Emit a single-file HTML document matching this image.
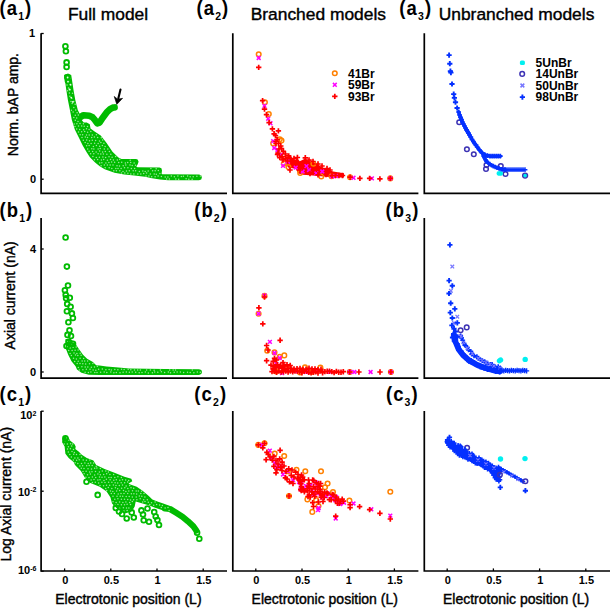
<!DOCTYPE html>
<html><head><meta charset="utf-8"><style>
html,body{margin:0;padding:0;background:#fff;}
svg{display:block;}
text{font-family:"Liberation Sans",sans-serif;fill:#000;}
.tk{font-size:11px;font-weight:bold;}
.sup{font-size:7px;}
.ttl{font-size:17.4px;stroke:#000;stroke-width:0.4px;}
.pl{font-size:18.5px;font-weight:bold;letter-spacing:1.1px;}
.sub{font-size:10.5px;}
.at{font-size:14px;stroke:#000;stroke-width:0.4px;}
.lg{font-size:12px;font-weight:bold;}
</style></head><body>
<svg width="610" height="608" viewBox="0 0 610 608">
<path d="M64.0 75.0 L64.9 80.0 L66.3 90.0 L67.9 100.0 L69.9 110.0 L71.8 119.7 L74.8 129.6 L78.8 137.5 L82.7 145.4 L86.5 152.0 L89.9 157.3 L94.8 162.3 L99.7 166.3 L104.7 169.2 L114.5 172.7 L124.3 174.6 L134.2 175.6 L145.0 176.8 L152.0 178.3 L160.0 179.6 L168.0 180.3 L199.0 180.3 L201.2 179.6 L201.9 177.4 L201.2 175.2 L199.0 174.5 L162.0 174.3 L161.6 173.4 L162.0 170.5 L161.4 168.2 L159.5 167.6 L137.5 167.3 L136.3 166.6 L137.6 164.6 L138.6 161.8 L137.6 159.6 L136.0 159.1 L121.5 159.1 L118.4 157.6 L112.5 151.7 L106.6 142.9 L100.7 135.5 L94.6 131.6 L90.5 128.4 L89.8 124.3 L86.7 122.6 L83.7 122.4 L80.5 118.5 L80.2 114.8 L77.8 109.9 L75.3 100.0 L73.5 90.0 L72.0 80.0 L71.2 75.0 L68.0 73.5 Z" fill="#00bb00" />
<path d="M79.5 117.6 L83.5 115.2 L89.3 115.8 L92.6 117.3 L94.6 119.6 L97.3 123.4 L99.6 122.6 L102.2 118.4 L107.2 111.8 L110.3 108.9 L113.2 107.6 L114.6 107.4" fill="none" stroke="#00bb00" stroke-width="6.6" stroke-linecap="round" stroke-linejoin="round" />
<g fill="#9ae89a"><circle cx="65.3" cy="76.3" r="0.75"/><circle cx="69.3" cy="75.7" r="0.75"/><circle cx="67.5" cy="79.0" r="0.75"/><circle cx="70.1" cy="78.5" r="0.75"/><circle cx="69.4" cy="81.8" r="0.75"/><circle cx="67.0" cy="85.1" r="0.75"/><circle cx="70.8" cy="85.1" r="0.75"/><circle cx="68.5" cy="87.9" r="0.75"/><circle cx="67.5" cy="90.8" r="0.75"/><circle cx="70.2" cy="89.8" r="0.75"/><circle cx="69.4" cy="92.9" r="0.75"/><circle cx="72.5" cy="93.3" r="0.75"/><circle cx="69.9" cy="96.3" r="0.75"/><circle cx="71.8" cy="98.3" r="0.75"/><circle cx="71.0" cy="101.4" r="0.75"/><circle cx="73.7" cy="101.4" r="0.75"/><circle cx="72.2" cy="103.6" r="0.75"/><circle cx="75.1" cy="104.3" r="0.75"/><circle cx="73.8" cy="107.5" r="0.75"/><circle cx="71.4" cy="110.2" r="0.75"/><circle cx="75.7" cy="109.9" r="0.75"/><circle cx="73.1" cy="112.1" r="0.75"/><circle cx="77.1" cy="112.7" r="0.75"/><circle cx="75.3" cy="115.3" r="0.75"/><circle cx="78.3" cy="114.9" r="0.75"/><circle cx="73.8" cy="117.5" r="0.75"/><circle cx="76.7" cy="118.0" r="0.75"/><circle cx="75.3" cy="120.3" r="0.75"/><circle cx="78.0" cy="121.4" r="0.75"/><circle cx="74.1" cy="124.0" r="0.75"/><circle cx="76.9" cy="123.7" r="0.75"/><circle cx="80.0" cy="123.6" r="0.75"/><circle cx="83.4" cy="123.7" r="0.75"/><circle cx="75.0" cy="126.5" r="0.75"/><circle cx="78.5" cy="126.1" r="0.75"/><circle cx="81.7" cy="126.1" r="0.75"/><circle cx="84.2" cy="126.2" r="0.75"/><circle cx="87.5" cy="126.4" r="0.75"/><circle cx="76.7" cy="129.1" r="0.75"/><circle cx="79.7" cy="129.6" r="0.75"/><circle cx="83.7" cy="129.7" r="0.75"/><circle cx="86.5" cy="128.7" r="0.75"/><circle cx="89.1" cy="129.5" r="0.75"/><circle cx="78.5" cy="131.9" r="0.75"/><circle cx="81.6" cy="131.8" r="0.75"/><circle cx="84.7" cy="131.5" r="0.75"/><circle cx="87.6" cy="132.3" r="0.75"/><circle cx="90.8" cy="131.6" r="0.75"/><circle cx="80.1" cy="134.7" r="0.75"/><circle cx="82.6" cy="134.8" r="0.75"/><circle cx="86.5" cy="135.0" r="0.75"/><circle cx="89.2" cy="134.9" r="0.75"/><circle cx="92.3" cy="135.0" r="0.75"/><circle cx="96.4" cy="134.7" r="0.75"/><circle cx="82.0" cy="137.5" r="0.75"/><circle cx="85.3" cy="137.1" r="0.75"/><circle cx="87.5" cy="137.5" r="0.75"/><circle cx="91.7" cy="137.5" r="0.75"/><circle cx="94.4" cy="137.1" r="0.75"/><circle cx="97.6" cy="137.4" r="0.75"/><circle cx="101.3" cy="137.8" r="0.75"/><circle cx="83.3" cy="140.2" r="0.75"/><circle cx="86.7" cy="140.1" r="0.75"/><circle cx="89.5" cy="140.7" r="0.75"/><circle cx="92.3" cy="140.2" r="0.75"/><circle cx="95.6" cy="140.4" r="0.75"/><circle cx="99.5" cy="140.9" r="0.75"/><circle cx="102.7" cy="139.9" r="0.75"/><circle cx="85.2" cy="142.5" r="0.75"/><circle cx="87.9" cy="143.4" r="0.75"/><circle cx="91.1" cy="143.5" r="0.75"/><circle cx="94.6" cy="143.3" r="0.75"/><circle cx="98.1" cy="143.4" r="0.75"/><circle cx="100.9" cy="142.6" r="0.75"/><circle cx="103.9" cy="143.3" r="0.75"/><circle cx="86.6" cy="145.7" r="0.75"/><circle cx="89.1" cy="145.5" r="0.75"/><circle cx="93.4" cy="146.4" r="0.75"/><circle cx="96.4" cy="145.6" r="0.75"/><circle cx="99.6" cy="146.2" r="0.75"/><circle cx="102.4" cy="145.6" r="0.75"/><circle cx="105.1" cy="146.5" r="0.75"/><circle cx="87.7" cy="148.9" r="0.75"/><circle cx="91.8" cy="148.7" r="0.75"/><circle cx="93.9" cy="148.9" r="0.75"/><circle cx="98.1" cy="149.0" r="0.75"/><circle cx="100.2" cy="148.4" r="0.75"/><circle cx="104.3" cy="148.9" r="0.75"/><circle cx="107.8" cy="149.1" r="0.75"/><circle cx="89.1" cy="151.2" r="0.75"/><circle cx="92.6" cy="151.5" r="0.75"/><circle cx="96.1" cy="151.9" r="0.75"/><circle cx="99.6" cy="151.1" r="0.75"/><circle cx="102.6" cy="151.9" r="0.75"/><circle cx="105.3" cy="151.6" r="0.75"/><circle cx="109.4" cy="151.6" r="0.75"/><circle cx="90.6" cy="153.8" r="0.75"/><circle cx="93.8" cy="153.8" r="0.75"/><circle cx="98.1" cy="153.7" r="0.75"/><circle cx="100.8" cy="153.9" r="0.75"/><circle cx="103.4" cy="154.0" r="0.75"/><circle cx="106.9" cy="154.3" r="0.75"/><circle cx="110.8" cy="154.3" r="0.75"/><circle cx="92.9" cy="156.5" r="0.75"/><circle cx="96.3" cy="157.5" r="0.75"/><circle cx="99.4" cy="157.3" r="0.75"/><circle cx="102.9" cy="157.0" r="0.75"/><circle cx="105.6" cy="157.5" r="0.75"/><circle cx="109.0" cy="156.8" r="0.75"/><circle cx="112.1" cy="157.3" r="0.75"/><circle cx="115.6" cy="156.6" r="0.75"/><circle cx="94.4" cy="159.8" r="0.75"/><circle cx="97.6" cy="159.4" r="0.75"/><circle cx="101.4" cy="160.1" r="0.75"/><circle cx="103.7" cy="159.6" r="0.75"/><circle cx="107.4" cy="160.2" r="0.75"/><circle cx="110.5" cy="159.5" r="0.75"/><circle cx="113.4" cy="159.9" r="0.75"/><circle cx="117.3" cy="160.0" r="0.75"/><circle cx="119.7" cy="159.2" r="0.75"/><circle cx="130.2" cy="160.2" r="0.75"/><circle cx="99.7" cy="163.1" r="0.75"/><circle cx="101.9" cy="162.7" r="0.75"/><circle cx="105.9" cy="163.1" r="0.75"/><circle cx="108.9" cy="162.6" r="0.75"/><circle cx="111.6" cy="162.0" r="0.75"/><circle cx="114.6" cy="162.3" r="0.75"/><circle cx="118.7" cy="162.5" r="0.75"/><circle cx="121.7" cy="162.3" r="0.75"/><circle cx="125.4" cy="163.1" r="0.75"/><circle cx="127.7" cy="162.4" r="0.75"/><circle cx="130.7" cy="162.5" r="0.75"/><circle cx="134.1" cy="162.9" r="0.75"/><circle cx="101.1" cy="165.7" r="0.75"/><circle cx="104.3" cy="165.0" r="0.75"/><circle cx="107.4" cy="165.1" r="0.75"/><circle cx="110.1" cy="165.1" r="0.75"/><circle cx="113.0" cy="164.9" r="0.75"/><circle cx="117.0" cy="165.7" r="0.75"/><circle cx="119.5" cy="165.9" r="0.75"/><circle cx="123.2" cy="165.7" r="0.75"/><circle cx="125.8" cy="164.9" r="0.75"/><circle cx="130.0" cy="164.9" r="0.75"/><circle cx="132.2" cy="165.6" r="0.75"/><circle cx="135.5" cy="165.3" r="0.75"/><circle cx="105.2" cy="167.8" r="0.75"/><circle cx="109.2" cy="167.8" r="0.75"/><circle cx="111.8" cy="168.6" r="0.75"/><circle cx="115.8" cy="168.5" r="0.75"/><circle cx="118.0" cy="168.5" r="0.75"/><circle cx="121.1" cy="168.5" r="0.75"/><circle cx="124.5" cy="167.8" r="0.75"/><circle cx="127.9" cy="167.7" r="0.75"/><circle cx="131.4" cy="168.5" r="0.75"/><circle cx="134.6" cy="168.5" r="0.75"/><circle cx="150.9" cy="168.6" r="0.75"/><circle cx="156.2" cy="168.7" r="0.75"/><circle cx="113.8" cy="170.7" r="0.75"/><circle cx="116.4" cy="170.7" r="0.75"/><circle cx="119.8" cy="170.7" r="0.75"/><circle cx="123.0" cy="171.4" r="0.75"/><circle cx="126.5" cy="170.9" r="0.75"/><circle cx="129.3" cy="170.7" r="0.75"/><circle cx="133.2" cy="170.7" r="0.75"/><circle cx="135.6" cy="170.8" r="0.75"/><circle cx="139.4" cy="171.5" r="0.75"/><circle cx="142.8" cy="170.9" r="0.75"/><circle cx="145.2" cy="171.4" r="0.75"/><circle cx="148.2" cy="171.0" r="0.75"/><circle cx="152.6" cy="170.7" r="0.75"/><circle cx="155.2" cy="170.7" r="0.75"/><circle cx="158.3" cy="170.5" r="0.75"/><circle cx="121.5" cy="173.1" r="0.75"/><circle cx="124.8" cy="173.1" r="0.75"/><circle cx="127.9" cy="173.2" r="0.75"/><circle cx="130.8" cy="174.0" r="0.75"/><circle cx="133.9" cy="174.1" r="0.75"/><circle cx="137.8" cy="173.9" r="0.75"/><circle cx="140.8" cy="174.0" r="0.75"/><circle cx="143.7" cy="173.6" r="0.75"/><circle cx="146.6" cy="173.1" r="0.75"/><circle cx="150.3" cy="173.9" r="0.75"/><circle cx="154.2" cy="174.1" r="0.75"/><circle cx="156.3" cy="174.2" r="0.75"/><circle cx="159.9" cy="173.6" r="0.75"/><circle cx="146.0" cy="176.0" r="0.75"/><circle cx="148.9" cy="176.0" r="0.75"/><circle cx="151.7" cy="176.7" r="0.75"/><circle cx="155.1" cy="176.7" r="0.75"/><circle cx="158.1" cy="176.0" r="0.75"/><circle cx="161.4" cy="176.5" r="0.75"/><circle cx="165.2" cy="176.9" r="0.75"/><circle cx="167.9" cy="177.0" r="0.75"/><circle cx="171.3" cy="176.1" r="0.75"/><circle cx="174.4" cy="176.7" r="0.75"/><circle cx="177.9" cy="176.1" r="0.75"/><circle cx="181.4" cy="176.6" r="0.75"/><circle cx="183.4" cy="176.3" r="0.75"/><circle cx="187.6" cy="176.0" r="0.75"/><circle cx="190.2" cy="176.7" r="0.75"/><circle cx="193.2" cy="176.8" r="0.75"/><circle cx="196.9" cy="176.2" r="0.75"/><circle cx="200.4" cy="176.0" r="0.75"/><circle cx="166.6" cy="179.1" r="0.75"/><circle cx="169.4" cy="178.9" r="0.75"/><circle cx="175.8" cy="179.0" r="0.75"/><circle cx="178.7" cy="179.3" r="0.75"/><circle cx="186.1" cy="178.7" r="0.75"/><circle cx="188.8" cy="179.3" r="0.75"/><circle cx="192.1" cy="179.2" r="0.75"/></g>
<g fill="none" stroke="#00bb00" stroke-width="1.8"><circle cx="65.4" cy="46.2" r="2.4"/><circle cx="65.9" cy="51.3" r="2.4"/><circle cx="66.6" cy="62.4" r="2.4"/><circle cx="66.6" cy="66.9" r="2.4"/><circle cx="67.3" cy="77.2" r="2.4"/><circle cx="67.9" cy="80.6" r="2.4"/></g>
<path d="M120.5 89.6 L118.3 98.5" stroke="#000" stroke-width="2.1" stroke-linecap="round"/>
<path d="M114.2 96.4 L117.7 99.2 L122.6 98.3 L116.8 104.4 Z" fill="#000" stroke="#000" stroke-width="0.6" stroke-linejoin="round"/>
<g fill="#e8ffe8"><circle cx="67.6" cy="77.5" r="0.9"/><circle cx="68.0" cy="81.7" r="0.9"/><circle cx="70.4" cy="84.6" r="0.9"/><circle cx="71.2" cy="97.6" r="0.9"/><circle cx="72.8" cy="101.9" r="0.9"/><circle cx="69.5" cy="89.5" r="0.9"/></g>
<path d="M286.0 157.0 L289.8 155.6 L294.4 159.9 L297.4 158.4 L299.8 161.3 L305.3 158.6 L308.7 160.9 L312.7 162.3 L316.6 163.8 L321.3 167.1 L326.2 168.6 L333.1 171.5 L344.0 173.2 L344.0 177.6 L333.1 177.6 L321.3 176.3 L312.7 175.6 L302.8 174.8 L298.4 173.6 L295.4 168.8 L288.0 167.5 L285.0 162.0 Z" fill="#ff0000" />
<g fill="none" stroke="#ff8000" stroke-width="1.5"><circle cx="258.7" cy="54.3" r="2.3"/><circle cx="264.9" cy="102.2" r="2.3"/><circle cx="268.8" cy="114.1" r="2.3"/><circle cx="279.8" cy="139.3" r="2.3"/><circle cx="281.5" cy="140.6" r="2.3"/><circle cx="273.2" cy="143.4" r="2.3"/><circle cx="283.8" cy="163.5" r="2.3"/><circle cx="288.4" cy="167.1" r="2.3"/><circle cx="300.2" cy="173.0" r="2.3"/><circle cx="313.4" cy="163.7" r="2.3"/><circle cx="321.3" cy="176.5" r="2.3"/><circle cx="331.5" cy="176.2" r="2.3"/><circle cx="350.1" cy="177.2" r="2.3"/><circle cx="390.3" cy="178.4" r="2.3"/><circle cx="334.8" cy="73.3" r="2.3"/></g>
<path d="M256.8 56.1l3.8 3.8M256.8 59.9l3.8 -3.8M262.6 104.0l3.8 3.8M262.6 107.8l3.8 -3.8M266.3 116.8l3.8 3.8M266.3 120.6l3.8 -3.8M268.6 121.4l3.8 3.8M268.6 125.2l3.8 -3.8M271.3 139.2l3.8 3.8M271.3 143.0l3.8 -3.8M272.3 146.1l3.8 3.8M272.3 149.9l3.8 -3.8M275.6 148.1l3.8 3.8M275.6 151.9l3.8 -3.8M285.5 158.6l3.8 3.8M285.5 162.4l3.8 -3.8M279.1 152.9l3.8 3.8M279.1 156.7l3.8 -3.8M286.0 159.8l3.8 3.8M286.0 163.6l3.8 -3.8M293.8 165.7l3.8 3.8M293.8 169.5l3.8 -3.8M300.7 169.6l3.8 3.8M300.7 173.4l3.8 -3.8M304.6 164.2l3.8 3.8M304.6 168.0l3.8 -3.8M314.5 171.6l3.8 3.8M314.5 175.4l3.8 -3.8M320.4 169.6l3.8 3.8M320.4 173.4l3.8 -3.8M330.2 174.6l3.8 3.8M330.2 178.4l3.8 -3.8M334.6 174.1l3.8 3.8M334.6 177.9l3.8 -3.8M351.6 175.9l3.8 3.8M351.6 179.7l3.8 -3.8M370.0 176.5l3.8 3.8M370.0 180.3l3.8 -3.8M388.4 176.5l3.8 3.8M388.4 180.3l3.8 -3.8M332.9 82.9l3.8 3.8M332.9 86.7l3.8 -3.8M281.1 163.9l3.8 3.8M281.1 167.7l3.8 -3.8M307.1 168.1l3.8 3.8M307.1 171.9l3.8 -3.8" stroke="#ff00ff" stroke-width="1.5" fill="none"/>
<path d="M256.0 67.4h5.4M258.7 64.7v5.4M259.9 100.6h5.4M262.6 97.9v5.4M261.8 109.1h5.4M264.5 106.4v5.4M263.8 114.7h5.4M266.5 112.0v5.4M266.4 122.6h5.4M269.1 119.9v5.4M269.7 128.9h5.4M272.4 126.2v5.4M275.7 130.9h5.4M278.4 128.2v5.4M271.4 133.8h5.4M274.1 131.1v5.4M272.8 135.5h5.4M275.5 132.8v5.4M274.5 139.5h5.4M277.2 136.8v5.4M273.3 143.5h5.4M276.0 140.8v5.4M278.1 146.0h5.4M280.8 143.3v5.4M280.7 151.3h5.4M283.4 148.6v5.4M277.1 157.6h5.4M279.8 154.9v5.4M282.7 154.0h5.4M285.4 151.3v5.4M286.0 155.9h5.4M288.7 153.2v5.4M288.0 158.6h5.4M290.7 155.9v5.4M291.3 158.5h5.4M294.0 155.8v5.4M294.7 157.5h5.4M297.4 154.8v5.4M302.6 157.8h5.4M305.3 155.1v5.4M306.3 160.0h5.4M309.0 157.3v5.4M310.3 161.5h5.4M313.0 158.8v5.4M315.3 164.0h5.4M318.0 161.3v5.4M319.3 166.0h5.4M322.0 163.3v5.4M324.3 168.5h5.4M327.0 165.8v5.4M327.3 170.0h5.4M330.0 167.3v5.4M329.3 175.5h5.4M332.0 172.8v5.4M332.8 175.5h5.4M335.5 172.8v5.4M336.3 175.5h5.4M339.0 172.8v5.4M339.8 175.5h5.4M342.5 172.8v5.4M347.4 177.2h5.4M350.1 174.5v5.4M357.2 178.4h5.4M359.9 175.7v5.4M366.9 178.4h5.4M369.6 175.7v5.4M377.2 178.9h5.4M379.9 176.2v5.4M387.6 178.4h5.4M390.3 175.7v5.4M332.1 96.4h5.4M334.8 93.7v5.4M275.3 153.0h5.4M278.0 150.3v5.4M273.3 141.5h5.4M276.0 138.8v5.4M275.8 143.5h5.4M278.5 140.8v5.4M276.3 149.0h5.4M279.0 146.3v5.4M278.8 148.5h5.4M281.5 145.8v5.4M274.8 154.5h5.4M277.5 151.8v5.4M279.3 156.5h5.4M282.0 153.8v5.4M282.8 158.5h5.4M285.5 155.8v5.4M284.8 161.0h5.4M287.5 158.3v5.4M280.3 160.0h5.4M283.0 157.3v5.4M287.3 170.0h5.4M290.0 167.3v5.4M297.3 170.0h5.4M300.0 167.3v5.4M307.3 173.5h5.4M310.0 170.8v5.4M315.3 174.8h5.4M318.0 172.1v5.4M323.3 174.5h5.4M326.0 171.8v5.4" stroke="#ff0000" stroke-width="1.7" fill="none"/>
<g fill="none" stroke="#3c32b4" stroke-width="1.5"><circle cx="459.2" cy="122.2" r="2.3"/><circle cx="466.9" cy="149.3" r="2.3"/><circle cx="473.8" cy="154.3" r="2.3"/><circle cx="486.5" cy="165.1" r="2.3"/><circle cx="486.0" cy="169.0" r="2.3"/><circle cx="500.8" cy="166.1" r="2.3"/><circle cx="505.5" cy="174.0" r="2.3"/><circle cx="522.2" cy="73.9" r="2.3"/></g>
<ellipse cx="499.8" cy="173.4" rx="3.2" ry="2.4" fill="#00f0f0"/>
<path d="M446.5 55.1h5.2M449.1 52.5v5.2M447.2 63.7h5.2M449.8 61.1v5.2M447.8 71.2h5.2M450.4 68.6v5.2M448.3 72.6h5.2M450.9 70.0v5.2M449.4 84.0h5.2M452.0 81.4v5.2M451.1 94.1h5.2M453.7 91.5v5.2M451.8 97.9h5.2M454.4 95.3v5.2M452.9 102.2h5.2M455.5 99.6v5.2M454.5 108.0h5.2M457.1 105.4v5.2M519.8 97.1h5.2M522.4 94.5v5.2" stroke="#0430ff" stroke-width="1.9" fill="none"/>
<path d="M458.6 112.0 L459.6 115.0 L462.4 122.0 L465.5 128.0 L469.5 135.0 L472.0 139.5 L474.7 143.5 L477.2 147.0 L479.5 150.0 L482.0 152.8 L485.0 155.0 L490.0 156.2 L500.3 156.2" fill="none" stroke="#0430ff" stroke-width="3.6" stroke-linecap="round" stroke-linejoin="round" />
<path d="M456.2 112.0h4.8M458.6 109.6v4.8M457.2 115.0h4.8M459.6 112.6v4.8M458.1 117.3h4.8M460.5 114.9v4.8M459.1 119.7h4.8M461.5 117.3v4.8M460.0 122.0h4.8M462.4 119.6v4.8M461.0 124.0h4.8M463.4 121.6v4.8M462.1 126.0h4.8M464.5 123.6v4.8M463.1 128.0h4.8M465.5 125.6v4.8M464.1 129.8h4.8M466.5 127.3v4.8M465.1 131.5h4.8M467.5 129.1v4.8M466.1 133.2h4.8M468.5 130.8v4.8M467.1 135.0h4.8M469.5 132.6v4.8M468.4 137.2h4.8M470.8 134.8v4.8M469.6 139.5h4.8M472.0 137.1v4.8M471.0 141.5h4.8M473.4 139.1v4.8M472.3 143.5h4.8M474.7 141.1v4.8M473.6 145.2h4.8M475.9 142.8v4.8M474.8 147.0h4.8M477.2 144.6v4.8M477.1 150.0h4.8M479.5 147.6v4.8M479.6 152.8h4.8M482.0 150.4v4.8M482.6 155.0h4.8M485.0 152.6v4.8M485.1 155.6h4.8M487.5 153.2v4.8M487.6 156.2h4.8M490.0 153.8v4.8M489.7 156.2h4.8M492.1 153.8v4.8M491.7 156.2h4.8M494.1 153.8v4.8M493.8 156.2h4.8M496.2 153.8v4.8M495.8 156.2h4.8M498.2 153.8v4.8M497.9 156.2h4.8M500.3 153.8v4.8" stroke="#0430ff" stroke-width="1.7" fill="none"/>
<path d="M483.5 156.0 L486.5 161.5 L491.5 165.3 L497.0 167.8 L501.3 169.2 L505.0 169.6" fill="none" stroke="#0430ff" stroke-width="3.4" stroke-linecap="round" stroke-linejoin="round" />
<path d="M481.2 156.0h4.6M483.5 153.7v4.6M482.2 157.8h4.6M484.5 155.5v4.6M483.2 159.7h4.6M485.5 157.4v4.6M484.2 161.5h4.6M486.5 159.2v4.6M485.9 162.8h4.6M488.2 160.5v4.6M487.5 164.0h4.6M489.8 161.7v4.6M489.2 165.3h4.6M491.5 163.0v4.6M491.0 166.1h4.6M493.3 163.8v4.6M492.9 167.0h4.6M495.2 164.7v4.6M494.7 167.8h4.6M497.0 165.5v4.6M496.8 168.5h4.6M499.1 166.2v4.6M499.0 169.2h4.6M501.3 166.9v4.6M502.7 169.6h4.6M505.0 167.3v4.6" stroke="#0430ff" stroke-width="1.6" fill="none"/>
<path d="M503 169.7 H525" stroke="#0430ff" stroke-width="2.2"/>
<path d="M500.6 169.7h4.8M503.0 167.3v4.8M502.6 169.7h4.8M505.0 167.3v4.8M504.6 169.7h4.8M507.0 167.3v4.8M506.6 169.7h4.8M509.0 167.3v4.8M508.6 169.7h4.8M511.0 167.3v4.8M510.6 169.7h4.8M513.0 167.3v4.8M512.6 169.7h4.8M515.0 167.3v4.8M514.6 169.7h4.8M517.0 167.3v4.8M516.6 169.7h4.8M519.0 167.3v4.8M518.6 169.7h4.8M521.0 167.3v4.8M520.6 169.7h4.8M523.0 167.3v4.8M522.6 169.7h4.8M525.0 167.3v4.8" stroke="#0430ff" stroke-width="1.4" fill="none"/>
<g fill="#00f0f0"><circle cx="525.1" cy="175.6" r="2.4"/></g>
<g fill="none" stroke="#3c32b4" stroke-width="1.3"><circle cx="525.1" cy="175.6" r="2.5"/></g>
<rect x="519.9" y="60.4" width="5" height="4.6" rx="1.6" fill="#00f0f0"/>
<path d="M520.5 83.6l3.8 3.8M520.5 87.4l3.8 -3.8" stroke="#7878ff" stroke-width="1.5" fill="none"/>
<path d="M65.5 339.0 L65.6 348.1 L68.2 354.7 L71.5 361.3 L75.6 366.2 L77.0 369.5 L81.4 372.8 L88.8 374.8 L100.0 375.1 L199.0 375.1 L201.3 374.0 L202.0 372.0 L201.3 370.0 L199.0 369.2 L165.0 368.9 L129.4 368.4 L115.7 367.2 L106.5 366.6 L99.6 365.5 L96.2 365.2 L92.9 362.1 L87.1 358.8 L83.0 354.7 L78.9 348.9 L75.6 344.0 L73.5 341.0 L70.0 339.5 Z" fill="#00bb00" />
<g fill="#9ae89a"><circle cx="67.4" cy="341.3" r="0.75"/><circle cx="70.5" cy="341.5" r="0.75"/><circle cx="73.2" cy="342.2" r="0.75"/><circle cx="69.0" cy="344.3" r="0.75"/><circle cx="71.4" cy="344.2" r="0.75"/><circle cx="67.5" cy="346.9" r="0.75"/><circle cx="70.1" cy="347.9" r="0.75"/><circle cx="73.1" cy="347.3" r="0.75"/><circle cx="76.2" cy="346.9" r="0.75"/><circle cx="68.7" cy="350.5" r="0.75"/><circle cx="72.1" cy="350.4" r="0.75"/><circle cx="75.1" cy="350.3" r="0.75"/><circle cx="78.1" cy="349.9" r="0.75"/><circle cx="70.1" cy="353.4" r="0.75"/><circle cx="74.0" cy="352.9" r="0.75"/><circle cx="76.9" cy="353.5" r="0.75"/><circle cx="80.2" cy="353.2" r="0.75"/><circle cx="71.4" cy="355.5" r="0.75"/><circle cx="75.5" cy="355.1" r="0.75"/><circle cx="77.8" cy="355.5" r="0.75"/><circle cx="81.1" cy="355.3" r="0.75"/><circle cx="73.5" cy="358.2" r="0.75"/><circle cx="76.4" cy="358.9" r="0.75"/><circle cx="80.1" cy="358.2" r="0.75"/><circle cx="83.6" cy="358.6" r="0.75"/><circle cx="74.7" cy="361.4" r="0.75"/><circle cx="78.2" cy="361.2" r="0.75"/><circle cx="82.1" cy="361.1" r="0.75"/><circle cx="84.7" cy="361.1" r="0.75"/><circle cx="87.6" cy="360.9" r="0.75"/><circle cx="77.2" cy="363.6" r="0.75"/><circle cx="80.0" cy="363.5" r="0.75"/><circle cx="82.8" cy="363.7" r="0.75"/><circle cx="85.7" cy="363.9" r="0.75"/><circle cx="89.5" cy="363.8" r="0.75"/><circle cx="92.9" cy="363.5" r="0.75"/><circle cx="78.3" cy="367.4" r="0.75"/><circle cx="81.9" cy="366.7" r="0.75"/><circle cx="85.2" cy="366.9" r="0.75"/><circle cx="87.8" cy="367.0" r="0.75"/><circle cx="91.4" cy="367.3" r="0.75"/><circle cx="94.5" cy="367.0" r="0.75"/><circle cx="97.4" cy="366.3" r="0.75"/><circle cx="79.3" cy="370.1" r="0.75"/><circle cx="82.9" cy="369.7" r="0.75"/><circle cx="86.3" cy="369.2" r="0.75"/><circle cx="90.0" cy="369.2" r="0.75"/><circle cx="93.1" cy="370.1" r="0.75"/><circle cx="95.8" cy="370.2" r="0.75"/><circle cx="98.6" cy="369.2" r="0.75"/><circle cx="102.3" cy="369.1" r="0.75"/><circle cx="105.9" cy="369.7" r="0.75"/><circle cx="109.1" cy="369.4" r="0.75"/><circle cx="111.3" cy="370.1" r="0.75"/><circle cx="114.8" cy="369.5" r="0.75"/><circle cx="117.9" cy="369.7" r="0.75"/><circle cx="121.5" cy="369.3" r="0.75"/><circle cx="124.1" cy="369.4" r="0.75"/><circle cx="128.2" cy="369.2" r="0.75"/><circle cx="130.8" cy="369.8" r="0.75"/><circle cx="134.5" cy="370.0" r="0.75"/><circle cx="137.7" cy="370.0" r="0.75"/><circle cx="140.3" cy="370.1" r="0.75"/><circle cx="146.6" cy="370.0" r="0.75"/><circle cx="150.3" cy="370.1" r="0.75"/><circle cx="154.1" cy="370.2" r="0.75"/><circle cx="160.4" cy="369.9" r="0.75"/><circle cx="169.7" cy="369.9" r="0.75"/><circle cx="173.1" cy="369.9" r="0.75"/><circle cx="175.5" cy="369.9" r="0.75"/><circle cx="192.3" cy="370.1" r="0.75"/><circle cx="85.1" cy="372.2" r="0.75"/><circle cx="88.4" cy="372.6" r="0.75"/><circle cx="90.9" cy="372.0" r="0.75"/><circle cx="94.8" cy="372.6" r="0.75"/><circle cx="97.0" cy="372.6" r="0.75"/><circle cx="100.6" cy="372.3" r="0.75"/><circle cx="104.2" cy="372.1" r="0.75"/><circle cx="106.8" cy="372.5" r="0.75"/><circle cx="110.8" cy="371.9" r="0.75"/><circle cx="113.9" cy="372.7" r="0.75"/><circle cx="116.3" cy="372.6" r="0.75"/><circle cx="120.0" cy="372.7" r="0.75"/><circle cx="123.1" cy="372.2" r="0.75"/><circle cx="126.3" cy="372.1" r="0.75"/><circle cx="129.4" cy="372.3" r="0.75"/><circle cx="132.2" cy="372.1" r="0.75"/><circle cx="135.7" cy="372.3" r="0.75"/><circle cx="139.2" cy="372.7" r="0.75"/><circle cx="142.0" cy="372.5" r="0.75"/><circle cx="145.3" cy="372.1" r="0.75"/><circle cx="148.3" cy="373.0" r="0.75"/><circle cx="152.4" cy="372.8" r="0.75"/><circle cx="154.7" cy="372.0" r="0.75"/><circle cx="157.8" cy="372.2" r="0.75"/><circle cx="161.4" cy="371.8" r="0.75"/><circle cx="164.6" cy="372.6" r="0.75"/><circle cx="168.3" cy="372.0" r="0.75"/><circle cx="170.5" cy="372.8" r="0.75"/><circle cx="174.2" cy="372.2" r="0.75"/><circle cx="177.1" cy="372.1" r="0.75"/><circle cx="180.4" cy="372.1" r="0.75"/><circle cx="183.6" cy="372.4" r="0.75"/><circle cx="187.5" cy="372.2" r="0.75"/><circle cx="190.2" cy="372.4" r="0.75"/><circle cx="193.9" cy="372.7" r="0.75"/><circle cx="197.3" cy="372.0" r="0.75"/><circle cx="200.3" cy="372.2" r="0.75"/></g>
<g fill="none" stroke="#00bb00" stroke-width="1.8"><circle cx="65.6" cy="237.5" r="2.4"/><circle cx="66.9" cy="266.6" r="2.4"/><circle cx="68.0" cy="285.5" r="2.4"/><circle cx="64.9" cy="290.3" r="2.4"/><circle cx="65.7" cy="294.9" r="2.4"/><circle cx="66.1" cy="298.2" r="2.4"/><circle cx="69.8" cy="297.7" r="2.4"/><circle cx="67.2" cy="303.9" r="2.4"/><circle cx="70.6" cy="306.8" r="2.4"/><circle cx="66.9" cy="311.3" r="2.4"/><circle cx="71.9" cy="313.4" r="2.4"/><circle cx="72.9" cy="318.0" r="2.4"/><circle cx="68.4" cy="322.2" r="2.4"/><circle cx="69.5" cy="330.3" r="2.4"/><circle cx="67.5" cy="334.9" r="2.4"/><circle cx="71.0" cy="336.0" r="2.4"/><circle cx="68.7" cy="341.8" r="2.4"/><circle cx="73.0" cy="343.8" r="2.4"/><circle cx="66.5" cy="346.0" r="2.4"/></g>
<g fill="none" stroke="#ff8000" stroke-width="1.5"><circle cx="264.5" cy="295.9" r="2.3"/><circle cx="258.6" cy="313.7" r="2.3"/><circle cx="267.2" cy="350.8" r="2.3"/><circle cx="274.5" cy="352.4" r="2.3"/><circle cx="284.3" cy="355.4" r="2.3"/><circle cx="279.7" cy="356.7" r="2.3"/><circle cx="305.0" cy="367.3" r="2.3"/><circle cx="320.4" cy="367.6" r="2.3"/><circle cx="349.7" cy="372.0" r="2.3"/><circle cx="390.9" cy="372.0" r="2.3"/><circle cx="300.0" cy="372.5" r="2.3"/><circle cx="312.0" cy="372.0" r="2.3"/><circle cx="289.0" cy="369.0" r="2.3"/><circle cx="276.0" cy="371.5" r="2.3"/></g>
<path d="M262.6 293.6l3.8 3.8M262.6 297.4l3.8 -3.8M256.7 311.8l3.8 3.8M256.7 315.6l3.8 -3.8M268.0 340.0l3.8 3.8M268.0 343.8l3.8 -3.8M272.6 351.1l3.8 3.8M272.6 354.9l3.8 -3.8M277.8 356.1l3.8 3.8M277.8 359.9l3.8 -3.8M274.5 362.1l3.8 3.8M274.5 365.9l3.8 -3.8M352.4 370.1l3.8 3.8M352.4 373.9l3.8 -3.8M368.7 370.1l3.8 3.8M368.7 373.9l3.8 -3.8M389.0 370.1l3.8 3.8M389.0 373.9l3.8 -3.8M347.8 370.1l3.8 3.8M347.8 373.9l3.8 -3.8M284.1 368.1l3.8 3.8M284.1 371.9l3.8 -3.8M304.1 370.1l3.8 3.8M304.1 373.9l3.8 -3.8M328.1 369.9l3.8 3.8M328.1 373.7l3.8 -3.8M293.1 369.1l3.8 3.8M293.1 372.9l3.8 -3.8M314.1 369.1l3.8 3.8M314.1 372.9l3.8 -3.8M280.1 371.1l3.8 3.8M280.1 374.9l3.8 -3.8" stroke="#ff00ff" stroke-width="1.5" fill="none"/>
<path d="M261.8 297.0h5.4M264.5 294.3v5.4M256.2 307.8h5.4M258.9 305.1v5.4M260.1 323.9h5.4M262.8 321.2v5.4M277.4 340.3h5.4M280.1 337.6v5.4M263.9 345.5h5.4M266.6 342.8v5.4M265.3 350.0h5.4M268.0 347.3v5.4M263.9 360.7h5.4M266.6 358.0v5.4M271.8 358.4h5.4M274.5 355.7v5.4M270.5 361.3h5.4M273.2 358.6v5.4M273.8 360.0h5.4M276.5 357.3v5.4M280.3 362.6h5.4M283.0 359.9v5.4M347.0 372.0h5.4M349.7 369.3v5.4M356.2 372.0h5.4M358.9 369.3v5.4M377.3 372.0h5.4M380.0 369.3v5.4M388.2 372.0h5.4M390.9 369.3v5.4M269.3 371.6h5.4M272.0 368.9v5.4M271.6 371.3h5.4M274.3 368.6v5.4M273.9 372.3h5.4M276.6 369.6v5.4M276.2 371.1h5.4M278.9 368.4v5.4M278.5 372.1h5.4M281.2 369.4v5.4M280.8 371.7h5.4M283.5 369.0v5.4M283.1 371.1h5.4M285.8 368.4v5.4M285.4 372.0h5.4M288.1 369.3v5.4M287.7 371.1h5.4M290.4 368.4v5.4M290.0 371.9h5.4M292.7 369.2v5.4M292.3 371.1h5.4M295.0 368.4v5.4M294.6 371.2h5.4M297.3 368.5v5.4M296.9 371.8h5.4M299.6 369.1v5.4M299.2 372.7h5.4M301.9 370.0v5.4M301.5 371.2h5.4M304.2 368.5v5.4M303.8 371.4h5.4M306.5 368.7v5.4M306.1 372.3h5.4M308.8 369.6v5.4M308.4 372.9h5.4M311.1 370.2v5.4M310.7 372.2h5.4M313.4 369.5v5.4M313.0 371.8h5.4M315.7 369.1v5.4M315.3 373.0h5.4M318.0 370.3v5.4M317.6 371.1h5.4M320.3 368.4v5.4M319.9 372.7h5.4M322.6 370.0v5.4M322.2 371.6h5.4M324.9 368.9v5.4M324.5 371.3h5.4M327.2 368.6v5.4M326.8 371.2h5.4M329.5 368.5v5.4M329.1 371.6h5.4M331.8 368.9v5.4M331.4 372.6h5.4M334.1 369.9v5.4M333.7 371.4h5.4M336.4 368.7v5.4M336.0 372.2h5.4M338.7 369.5v5.4M338.3 372.3h5.4M341.0 369.6v5.4M340.6 371.7h5.4M343.3 369.0v5.4M270.3 368.9h5.4M273.0 366.2v5.4M273.3 367.9h5.4M276.0 365.2v5.4M276.3 367.9h5.4M279.0 365.2v5.4M279.3 368.2h5.4M282.0 365.5v5.4M282.3 369.2h5.4M285.0 366.5v5.4M285.3 368.7h5.4M288.0 366.0v5.4M288.3 368.4h5.4M291.0 365.7v5.4M291.3 369.0h5.4M294.0 366.3v5.4M294.3 368.7h5.4M297.0 366.0v5.4M297.3 368.4h5.4M300.0 365.7v5.4M300.3 369.4h5.4M303.0 366.7v5.4M303.3 369.2h5.4M306.0 366.5v5.4M306.3 368.3h5.4M309.0 365.6v5.4M309.3 368.9h5.4M312.0 366.2v5.4M312.3 368.9h5.4M315.0 366.2v5.4M315.3 369.6h5.4M318.0 366.9v5.4M318.3 369.3h5.4M321.0 366.6v5.4M268.3 365.1h5.4M271.0 362.4v5.4M271.5 366.5h5.4M274.2 363.8v5.4M274.7 364.7h5.4M277.4 362.0v5.4M277.9 365.3h5.4M280.6 362.6v5.4M281.1 366.0h5.4M283.8 363.3v5.4M284.3 364.8h5.4M287.0 362.1v5.4M287.5 365.5h5.4M290.2 362.8v5.4" stroke="#ff0000" stroke-width="1.7" fill="none"/>
<path d="M454.0 335.0 L455.6 342.0 L458.6 349.2 L463.0 355.0 L469.0 360.4 L476.8 364.8 L485.3 368.0 L495.0 370.6 L500.0 371.4" fill="none" stroke="#0430ff" stroke-width="5.8" stroke-linecap="round" stroke-linejoin="round" />
<path d="M450.9 335.1h5.4M453.6 332.4v5.4M451.5 336.9h5.4M454.2 334.2v5.4M452.3 337.8h5.4M455.0 335.1v5.4M451.7 340.8h5.4M454.4 338.1v5.4M452.5 341.6h5.4M455.2 338.9v5.4M454.4 343.8h5.4M457.1 341.1v5.4M454.9 345.6h5.4M457.6 342.9v5.4M455.4 346.8h5.4M458.1 344.1v5.4M456.1 349.8h5.4M458.8 347.1v5.4M457.0 351.0h5.4M459.7 348.3v5.4M458.4 351.4h5.4M461.1 348.7v5.4M459.6 353.7h5.4M462.3 351.0v5.4M460.0 354.2h5.4M462.7 351.5v5.4M462.1 356.0h5.4M464.8 353.3v5.4M463.1 357.8h5.4M465.8 355.1v5.4M464.2 358.9h5.4M466.9 356.2v5.4M464.9 359.8h5.4M467.6 357.1v5.4M466.2 361.1h5.4M468.9 358.4v5.4M468.5 360.6h5.4M471.2 357.9v5.4M468.8 361.7h5.4M471.5 359.0v5.4M471.7 362.9h5.4M474.4 360.2v5.4M472.7 363.6h5.4M475.4 360.9v5.4M474.1 364.6h5.4M476.8 361.9v5.4M475.6 365.6h5.4M478.3 362.9v5.4M477.6 366.7h5.4M480.3 364.0v5.4M479.5 367.4h5.4M482.2 364.7v5.4M481.5 368.1h5.4M484.2 365.4v5.4M482.9 367.5h5.4M485.6 364.8v5.4M484.8 369.2h5.4M487.5 366.5v5.4M486.5 369.0h5.4M489.2 366.3v5.4M487.8 368.8h5.4M490.5 366.1v5.4M489.6 369.9h5.4M492.3 367.2v5.4M490.3 369.5h5.4M493.0 366.8v5.4M492.9 371.4h5.4M495.6 368.7v5.4M493.3 371.3h5.4M496.0 368.6v5.4M495.5 370.6h5.4M498.2 367.9v5.4M497.0 371.8h5.4M499.7 369.1v5.4" stroke="#0430ff" stroke-width="1.7" fill="none"/>
<path d="M472.3 353.6 L478.3 358.4 L486.0 362.6 L494.0 366.0 L500.0 368.0" fill="none" stroke="#0430ff" stroke-width="2.0" stroke-linecap="round" stroke-linejoin="round" />
<path d="M458.3 335.9h4.8M460.7 333.5v4.8M459.1 337.9h4.8M461.5 335.5v4.8M460.3 340.3h4.8M462.7 337.9v4.8M461.6 343.2h4.8M464.0 340.8v4.8M462.4 345.1h4.8M464.8 342.7v4.8M463.4 345.7h4.8M465.8 343.3v4.8M465.0 347.5h4.8M467.4 345.1v4.8M466.1 349.9h4.8M468.5 347.5v4.8M468.4 351.3h4.8M470.8 348.9v4.8M469.3 354.1h4.8M471.7 351.7v4.8M471.6 355.8h4.8M474.0 353.4v4.8M474.5 356.6h4.8M476.9 354.2v4.8M475.8 358.4h4.8M478.2 356.0v4.8M478.0 359.6h4.8M480.4 357.2v4.8M479.8 360.7h4.8M482.2 358.3v4.8M482.3 361.6h4.8M484.7 359.2v4.8M483.5 362.9h4.8M485.9 360.5v4.8M485.2 363.2h4.8M487.6 360.8v4.8M488.3 364.3h4.8M490.7 361.9v4.8M489.7 364.5h4.8M492.1 362.1v4.8M491.5 366.1h4.8M493.9 363.7v4.8M492.9 366.8h4.8M495.3 364.4v4.8M495.8 366.7h4.8M498.2 364.3v4.8M497.8 368.0h4.8M500.2 365.6v4.8" stroke="#0430ff" stroke-width="1.6" fill="none"/>
<path d="M458.5 334.8l3.4 3.4M458.5 338.2l3.4 -3.4M461.8 340.8l3.4 3.4M461.8 344.2l3.4 -3.4M465.6 346.5l3.4 3.4M465.6 349.9l3.4 -3.4M470.6 351.9l3.4 3.4M470.6 355.3l3.4 -3.4M476.6 356.7l3.4 3.4M476.6 360.1l3.4 -3.4M480.4 358.8l3.4 3.4M480.4 362.2l3.4 -3.4M484.3 360.9l3.4 3.4M484.3 364.3l3.4 -3.4M488.3 362.6l3.4 3.4M488.3 366.0l3.4 -3.4M492.3 364.3l3.4 3.4M492.3 367.7l3.4 -3.4M498.3 366.3l3.4 3.4M498.3 369.7l3.4 -3.4" stroke="#7878ff" stroke-width="1.2" fill="none"/>
<path d="M500 370.6 H526" stroke="#0430ff" stroke-width="2.4"/>
<path d="M497.4 370.3h5.2M500.0 367.7v5.2M499.3 370.6h5.2M501.9 368.0v5.2M501.2 370.9h5.2M503.8 368.3v5.2M503.1 370.3h5.2M505.7 367.7v5.2M505.0 370.6h5.2M507.6 368.0v5.2M506.9 370.9h5.2M509.5 368.3v5.2M508.8 370.3h5.2M511.4 367.7v5.2M510.7 370.6h5.2M513.3 368.0v5.2M512.6 370.9h5.2M515.2 368.3v5.2M514.5 370.3h5.2M517.1 367.7v5.2M516.4 370.6h5.2M519.0 368.0v5.2M518.3 370.9h5.2M520.9 368.3v5.2M520.2 370.3h5.2M522.8 367.7v5.2M522.1 370.6h5.2M524.7 368.0v5.2M524.0 370.9h5.2M526.6 368.3v5.2" stroke="#0430ff" stroke-width="1.4" fill="none"/>
<path d="M450.5 264.8l3.6 3.6M450.5 268.4l3.6 -3.6M449.1 289.0l3.6 3.6M449.1 292.6l3.6 -3.6M455.5 314.9l3.6 3.6M455.5 318.5l3.6 -3.6M452.2 321.1l3.6 3.6M452.2 324.7l3.6 -3.6M458.8 334.2l3.6 3.6M458.8 337.8l3.6 -3.6" stroke="#7878ff" stroke-width="1.3" fill="none"/>
<path d="M447.3 244.9h5.2M449.9 242.3v5.2M446.5 280.6h5.2M449.1 278.0v5.2M449.7 285.8h5.2M452.3 283.2v5.2M446.4 293.5h5.2M449.0 290.9v5.2M448.1 303.2h5.2M450.7 300.6v5.2M452.2 308.9h5.2M454.8 306.3v5.2M447.7 312.6h5.2M450.3 310.0v5.2M449.7 318.0h5.2M452.3 315.4v5.2M454.7 322.9h5.2M457.3 320.3v5.2M449.3 325.4h5.2M451.9 322.8v5.2M451.4 328.7h5.2M454.0 326.1v5.2M451.0 334.0h5.2M453.6 331.4v5.2M454.7 336.9h5.2M457.3 334.3v5.2M452.9 331.5h5.2M455.5 328.9v5.2M449.9 337.5h5.2M452.5 334.9v5.2" stroke="#0430ff" stroke-width="1.9" fill="none"/>
<g fill="none" stroke="#3c32b4" stroke-width="1.5"><circle cx="466.7" cy="327.4" r="2.3"/><circle cx="460.6" cy="330.3" r="2.3"/></g>
<ellipse cx="500" cy="360.4" rx="3.4" ry="2.7" transform="rotate(-35 500 360.4)" fill="#00f0f0"/>
<g fill="#00f0f0"><circle cx="525.2" cy="359.4" r="2.7"/></g>
<path d="M65.4 435.3 L67.9 436.6 L70.3 440.7 L74.4 444.0 L75.7 446.4 L75.3 448.9 L78.6 451.4 L81.8 454.7 L86.8 458.0 L93.4 460.4 L96.2 464.9 L104.6 468.9 L114.5 472.8 L124.4 476.8 L131.3 478.8 L132.3 481.2 L128.5 483.5 L129.7 484.3 L136.7 486.8 L142.6 490.7 L148.5 495.7 L152.4 499.6 L157.4 501.6 L163.3 503.6 L170.0 506.0 L170.0 511.5 L163.3 510.5 L154.4 507.5 L149.5 505.5 L142.6 503.6 L135.7 501.6 L134.7 506.5 L131.7 511.5 L124.8 513.4 L117.9 509.5 L112.0 503.6 L110.5 497.5 L106.6 491.6 L99.7 486.7 L89.8 482.7 L84.9 477.8 L80.9 470.9 L75.0 464.9 L73.6 462.1 L68.7 458.0 L65.4 453.8 L64.6 446.4 L62.1 442.3 L62.5 438.2 Z" fill="#00bb00" />
<path d="M165.0 508.5 L170.0 509.0 L176.0 512.7 L182.6 516.8 L188.0 521.3 L193.3 526.3 L196.3 530.5" fill="none" stroke="#00bb00" stroke-width="6.2" stroke-linecap="round" stroke-linejoin="round" />
<g fill="#9ae89a"><circle cx="66.8" cy="437.7" r="0.75"/><circle cx="65.1" cy="440.7" r="0.75"/><circle cx="68.8" cy="440.3" r="0.75"/><circle cx="64.2" cy="443.9" r="0.75"/><circle cx="67.4" cy="444.1" r="0.75"/><circle cx="70.6" cy="443.7" r="0.75"/><circle cx="72.7" cy="443.9" r="0.75"/><circle cx="68.4" cy="446.7" r="0.75"/><circle cx="71.7" cy="446.1" r="0.75"/><circle cx="67.5" cy="449.1" r="0.75"/><circle cx="70.4" cy="448.8" r="0.75"/><circle cx="73.5" cy="449.5" r="0.75"/><circle cx="68.3" cy="451.9" r="0.75"/><circle cx="72.0" cy="451.5" r="0.75"/><circle cx="74.4" cy="452.4" r="0.75"/><circle cx="69.8" cy="454.6" r="0.75"/><circle cx="73.7" cy="454.2" r="0.75"/><circle cx="76.5" cy="454.5" r="0.75"/><circle cx="80.0" cy="454.6" r="0.75"/><circle cx="71.4" cy="457.1" r="0.75"/><circle cx="74.9" cy="458.1" r="0.75"/><circle cx="77.9" cy="458.0" r="0.75"/><circle cx="81.5" cy="457.1" r="0.75"/><circle cx="73.3" cy="460.0" r="0.75"/><circle cx="76.6" cy="460.2" r="0.75"/><circle cx="79.2" cy="459.8" r="0.75"/><circle cx="83.2" cy="460.1" r="0.75"/><circle cx="86.4" cy="460.3" r="0.75"/><circle cx="89.8" cy="460.1" r="0.75"/><circle cx="75.1" cy="462.7" r="0.75"/><circle cx="77.8" cy="463.6" r="0.75"/><circle cx="81.5" cy="463.6" r="0.75"/><circle cx="84.9" cy="463.1" r="0.75"/><circle cx="88.2" cy="463.4" r="0.75"/><circle cx="90.7" cy="463.0" r="0.75"/><circle cx="93.6" cy="463.0" r="0.75"/><circle cx="79.9" cy="466.1" r="0.75"/><circle cx="82.6" cy="465.7" r="0.75"/><circle cx="86.7" cy="465.7" r="0.75"/><circle cx="89.2" cy="465.4" r="0.75"/><circle cx="92.2" cy="465.5" r="0.75"/><circle cx="96.2" cy="466.2" r="0.75"/><circle cx="81.3" cy="468.3" r="0.75"/><circle cx="84.0" cy="468.4" r="0.75"/><circle cx="88.0" cy="468.7" r="0.75"/><circle cx="91.5" cy="469.1" r="0.75"/><circle cx="94.7" cy="468.2" r="0.75"/><circle cx="96.9" cy="468.1" r="0.75"/><circle cx="100.4" cy="468.5" r="0.75"/><circle cx="83.0" cy="471.6" r="0.75"/><circle cx="86.1" cy="471.2" r="0.75"/><circle cx="89.6" cy="472.0" r="0.75"/><circle cx="92.0" cy="471.7" r="0.75"/><circle cx="95.5" cy="471.5" r="0.75"/><circle cx="99.4" cy="472.0" r="0.75"/><circle cx="102.3" cy="471.1" r="0.75"/><circle cx="105.8" cy="471.1" r="0.75"/><circle cx="108.4" cy="471.9" r="0.75"/><circle cx="84.1" cy="473.8" r="0.75"/><circle cx="87.5" cy="474.8" r="0.75"/><circle cx="90.4" cy="473.9" r="0.75"/><circle cx="94.6" cy="474.9" r="0.75"/><circle cx="97.9" cy="474.0" r="0.75"/><circle cx="100.3" cy="474.8" r="0.75"/><circle cx="103.7" cy="474.5" r="0.75"/><circle cx="106.7" cy="473.7" r="0.75"/><circle cx="109.9" cy="474.6" r="0.75"/><circle cx="113.6" cy="474.4" r="0.75"/><circle cx="85.9" cy="477.2" r="0.75"/><circle cx="89.0" cy="477.6" r="0.75"/><circle cx="92.4" cy="477.0" r="0.75"/><circle cx="95.7" cy="477.5" r="0.75"/><circle cx="99.5" cy="477.1" r="0.75"/><circle cx="102.0" cy="477.2" r="0.75"/><circle cx="104.8" cy="477.0" r="0.75"/><circle cx="108.9" cy="477.4" r="0.75"/><circle cx="111.2" cy="477.5" r="0.75"/><circle cx="114.8" cy="477.6" r="0.75"/><circle cx="117.9" cy="476.7" r="0.75"/><circle cx="121.4" cy="477.5" r="0.75"/><circle cx="91.1" cy="480.0" r="0.75"/><circle cx="94.0" cy="479.4" r="0.75"/><circle cx="97.9" cy="480.1" r="0.75"/><circle cx="100.0" cy="479.8" r="0.75"/><circle cx="104.0" cy="480.4" r="0.75"/><circle cx="106.4" cy="479.3" r="0.75"/><circle cx="110.1" cy="479.8" r="0.75"/><circle cx="113.8" cy="480.2" r="0.75"/><circle cx="116.3" cy="479.7" r="0.75"/><circle cx="119.8" cy="480.3" r="0.75"/><circle cx="122.5" cy="479.7" r="0.75"/><circle cx="125.6" cy="480.0" r="0.75"/><circle cx="128.7" cy="480.4" r="0.75"/><circle cx="92.4" cy="482.5" r="0.75"/><circle cx="95.3" cy="482.3" r="0.75"/><circle cx="98.6" cy="482.9" r="0.75"/><circle cx="101.9" cy="482.2" r="0.75"/><circle cx="105.0" cy="482.6" r="0.75"/><circle cx="108.6" cy="482.3" r="0.75"/><circle cx="111.9" cy="482.3" r="0.75"/><circle cx="115.1" cy="482.8" r="0.75"/><circle cx="117.7" cy="482.9" r="0.75"/><circle cx="121.2" cy="482.7" r="0.75"/><circle cx="124.6" cy="482.8" r="0.75"/><circle cx="127.6" cy="482.1" r="0.75"/><circle cx="100.0" cy="485.5" r="0.75"/><circle cx="103.5" cy="485.7" r="0.75"/><circle cx="106.5" cy="485.3" r="0.75"/><circle cx="109.7" cy="485.3" r="0.75"/><circle cx="113.4" cy="484.9" r="0.75"/><circle cx="116.0" cy="485.4" r="0.75"/><circle cx="119.3" cy="485.4" r="0.75"/><circle cx="122.5" cy="484.9" r="0.75"/><circle cx="126.1" cy="485.9" r="0.75"/><circle cx="129.7" cy="485.4" r="0.75"/><circle cx="105.7" cy="488.5" r="0.75"/><circle cx="108.3" cy="487.6" r="0.75"/><circle cx="111.8" cy="488.5" r="0.75"/><circle cx="115.4" cy="487.8" r="0.75"/><circle cx="117.7" cy="488.8" r="0.75"/><circle cx="121.6" cy="488.2" r="0.75"/><circle cx="124.8" cy="487.8" r="0.75"/><circle cx="127.8" cy="488.4" r="0.75"/><circle cx="131.0" cy="487.8" r="0.75"/><circle cx="133.7" cy="488.3" r="0.75"/><circle cx="106.7" cy="490.5" r="0.75"/><circle cx="110.5" cy="491.0" r="0.75"/><circle cx="112.8" cy="491.5" r="0.75"/><circle cx="116.6" cy="491.1" r="0.75"/><circle cx="119.6" cy="490.5" r="0.75"/><circle cx="123.5" cy="490.6" r="0.75"/><circle cx="125.9" cy="491.6" r="0.75"/><circle cx="128.8" cy="491.0" r="0.75"/><circle cx="132.5" cy="490.7" r="0.75"/><circle cx="136.2" cy="490.9" r="0.75"/><circle cx="138.3" cy="490.9" r="0.75"/><circle cx="141.5" cy="491.2" r="0.75"/><circle cx="111.3" cy="493.6" r="0.75"/><circle cx="114.4" cy="493.5" r="0.75"/><circle cx="118.2" cy="493.9" r="0.75"/><circle cx="121.0" cy="493.4" r="0.75"/><circle cx="124.0" cy="493.4" r="0.75"/><circle cx="127.7" cy="493.5" r="0.75"/><circle cx="131.4" cy="493.8" r="0.75"/><circle cx="133.9" cy="493.7" r="0.75"/><circle cx="136.7" cy="494.0" r="0.75"/><circle cx="140.8" cy="493.6" r="0.75"/><circle cx="144.0" cy="493.5" r="0.75"/><circle cx="113.0" cy="496.2" r="0.75"/><circle cx="117.0" cy="496.2" r="0.75"/><circle cx="120.2" cy="496.3" r="0.75"/><circle cx="122.7" cy="496.2" r="0.75"/><circle cx="126.2" cy="496.6" r="0.75"/><circle cx="129.2" cy="496.6" r="0.75"/><circle cx="132.3" cy="497.0" r="0.75"/><circle cx="136.2" cy="496.9" r="0.75"/><circle cx="139.3" cy="496.0" r="0.75"/><circle cx="141.8" cy="496.2" r="0.75"/><circle cx="144.9" cy="497.1" r="0.75"/><circle cx="114.8" cy="499.2" r="0.75"/><circle cx="117.9" cy="498.7" r="0.75"/><circle cx="121.4" cy="499.3" r="0.75"/><circle cx="124.5" cy="499.3" r="0.75"/><circle cx="127.7" cy="499.6" r="0.75"/><circle cx="130.5" cy="499.9" r="0.75"/><circle cx="133.6" cy="499.8" r="0.75"/><circle cx="136.9" cy="499.7" r="0.75"/><circle cx="140.2" cy="498.8" r="0.75"/><circle cx="143.7" cy="499.7" r="0.75"/><circle cx="147.3" cy="499.8" r="0.75"/><circle cx="113.0" cy="501.8" r="0.75"/><circle cx="116.1" cy="502.6" r="0.75"/><circle cx="119.6" cy="502.0" r="0.75"/><circle cx="122.9" cy="502.4" r="0.75"/><circle cx="125.9" cy="501.9" r="0.75"/><circle cx="129.6" cy="502.4" r="0.75"/><circle cx="132.3" cy="501.6" r="0.75"/><circle cx="142.7" cy="502.0" r="0.75"/><circle cx="145.0" cy="501.6" r="0.75"/><circle cx="148.3" cy="502.2" r="0.75"/><circle cx="151.5" cy="502.7" r="0.75"/><circle cx="155.1" cy="502.1" r="0.75"/><circle cx="115.3" cy="504.9" r="0.75"/><circle cx="117.9" cy="504.4" r="0.75"/><circle cx="121.4" cy="504.7" r="0.75"/><circle cx="124.5" cy="504.7" r="0.75"/><circle cx="127.1" cy="504.3" r="0.75"/><circle cx="130.5" cy="504.4" r="0.75"/><circle cx="149.8" cy="504.6" r="0.75"/><circle cx="153.7" cy="505.3" r="0.75"/><circle cx="156.6" cy="504.5" r="0.75"/><circle cx="159.6" cy="505.1" r="0.75"/><circle cx="162.4" cy="505.4" r="0.75"/><circle cx="119.7" cy="508.2" r="0.75"/><circle cx="123.4" cy="507.8" r="0.75"/><circle cx="126.5" cy="508.1" r="0.75"/><circle cx="128.9" cy="508.1" r="0.75"/><circle cx="161.3" cy="507.4" r="0.75"/><circle cx="165.1" cy="508.1" r="0.75"/><circle cx="168.0" cy="507.4" r="0.75"/><circle cx="124.0" cy="510.9" r="0.75"/><circle cx="127.1" cy="510.5" r="0.75"/><circle cx="130.9" cy="509.9" r="0.75"/><circle cx="169.1" cy="510.4" r="0.75"/></g>
<g fill="none" stroke="#00bb00" stroke-width="1.8"><circle cx="86.5" cy="481.8" r="2.4"/><circle cx="97.7" cy="494.9" r="2.4"/><circle cx="115.8" cy="507.9" r="2.4"/><circle cx="126.7" cy="518.5" r="2.4"/><circle cx="133.8" cy="517.5" r="2.4"/><circle cx="141.4" cy="510.4" r="2.4"/><circle cx="143.0" cy="514.5" r="2.4"/><circle cx="143.7" cy="520.2" r="2.4"/><circle cx="149.0" cy="521.8" r="2.4"/><circle cx="147.5" cy="508.5" r="2.4"/><circle cx="154.2" cy="512.0" r="2.4"/><circle cx="155.7" cy="516.5" r="2.4"/><circle cx="157.4" cy="520.0" r="2.4"/><circle cx="159.0" cy="525.0" r="2.4"/><circle cx="131.7" cy="512.4" r="2.4"/><circle cx="119.0" cy="511.5" r="2.4"/><circle cx="122.0" cy="514.0" r="2.4"/><circle cx="197.1" cy="532.8" r="2.4"/><circle cx="199.3" cy="538.8" r="2.4"/><circle cx="65.4" cy="438.2" r="2.4"/></g>
<g fill="none" stroke="#ff8000" stroke-width="1.5"><circle cx="258.3" cy="444.9" r="2.3"/><circle cx="264.5" cy="443.3" r="2.3"/><circle cx="274.7" cy="453.6" r="2.3"/><circle cx="284.2" cy="456.0" r="2.3"/><circle cx="296.5" cy="469.8" r="2.3"/><circle cx="287.9" cy="471.2" r="2.3"/><circle cx="305.3" cy="471.2" r="2.3"/><circle cx="321.0" cy="471.2" r="2.3"/><circle cx="327.6" cy="483.5" r="2.3"/><circle cx="325.0" cy="487.2" r="2.3"/><circle cx="333.0" cy="492.1" r="2.3"/><circle cx="349.4" cy="500.5" r="2.3"/><circle cx="307.4" cy="499.4" r="2.3"/><circle cx="312.3" cy="511.9" r="2.3"/><circle cx="318.5" cy="506.0" r="2.3"/><circle cx="390.3" cy="491.7" r="2.3"/><circle cx="289.0" cy="496.0" r="2.3"/><circle cx="316.1" cy="500.0" r="2.3"/></g>
<path d="M267.9 448.8l3.8 3.8M267.9 452.6l3.8 -3.8M272.8 461.1l3.8 3.8M272.8 464.9l3.8 -3.8M281.1 472.6l3.8 3.8M281.1 476.4l3.8 -3.8M286.0 469.3l3.8 3.8M286.0 473.1l3.8 -3.8M260.1 443.1l3.8 3.8M260.1 446.9l3.8 -3.8M275.1 465.1l3.8 3.8M275.1 468.9l3.8 -3.8M291.1 478.1l3.8 3.8M291.1 481.9l3.8 -3.8M316.8 506.1l3.8 3.8M316.8 509.9l3.8 -3.8M316.1 508.1l3.8 3.8M316.1 511.9l3.8 -3.8M320.1 495.6l3.8 3.8M320.1 499.4l3.8 -3.8M324.1 494.1l3.8 3.8M324.1 497.9l3.8 -3.8M333.1 495.6l3.8 3.8M333.1 499.4l3.8 -3.8M338.4 502.1l3.8 3.8M338.4 505.9l3.8 -3.8M351.6 501.6l3.8 3.8M351.6 505.4l3.8 -3.8M369.4 507.4l3.8 3.8M369.4 511.2l3.8 -3.8M388.4 513.7l3.8 3.8M388.4 517.5l3.8 -3.8M333.8 516.6l3.8 3.8M333.8 520.4l3.8 -3.8M269.1 456.1l3.8 3.8M269.1 459.9l3.8 -3.8M279.1 464.1l3.8 3.8M279.1 467.9l3.8 -3.8M297.1 480.1l3.8 3.8M297.1 483.9l3.8 -3.8M304.1 484.1l3.8 3.8M304.1 487.9l3.8 -3.8M310.1 488.1l3.8 3.8M310.1 491.9l3.8 -3.8M299.0 479.3l3.8 3.8M299.0 483.1l3.8 -3.8M298.8 481.4l3.8 3.8M298.8 485.2l3.8 -3.8M314.3 480.9l3.8 3.8M314.3 484.7l3.8 -3.8M308.7 483.2l3.8 3.8M308.7 487.0l3.8 -3.8M316.1 484.9l3.8 3.8M316.1 488.7l3.8 -3.8M298.8 487.5l3.8 3.8M298.8 491.3l3.8 -3.8M301.2 487.3l3.8 3.8M301.2 491.1l3.8 -3.8M311.8 492.3l3.8 3.8M311.8 496.1l3.8 -3.8M313.3 491.5l3.8 3.8M313.3 495.3l3.8 -3.8M318.0 491.5l3.8 3.8M318.0 495.3l3.8 -3.8M326.0 491.7l3.8 3.8M326.0 495.5l3.8 -3.8M329.2 494.4l3.8 3.8M329.2 498.2l3.8 -3.8M334.2 495.1l3.8 3.8M334.2 498.9l3.8 -3.8M333.4 498.4l3.8 3.8M333.4 502.2l3.8 -3.8M337.6 501.4l3.8 3.8M337.6 505.2l3.8 -3.8M342.1 500.8l3.8 3.8M342.1 504.6l3.8 -3.8" stroke="#ff00ff" stroke-width="1.5" fill="none"/>
<path d="M255.6 444.9h5.4M258.3 442.2v5.4M261.8 443.3h5.4M264.5 440.6v5.4M260.1 447.8h5.4M262.8 445.1v5.4M277.4 450.3h5.4M280.1 447.6v5.4M264.2 452.3h5.4M266.9 449.6v5.4M265.5 454.4h5.4M268.2 451.7v5.4M263.4 459.7h5.4M266.1 457.0v5.4M271.2 456.4h5.4M273.9 453.7v5.4M269.6 460.1h5.4M272.3 457.4v5.4M277.0 458.9h5.4M279.7 456.2v5.4M279.4 462.2h5.4M282.1 459.5v5.4M271.2 466.3h5.4M273.9 463.6v5.4M277.8 467.1h5.4M280.5 464.4v5.4M274.1 469.6h5.4M276.8 466.9v5.4M273.3 472.9h5.4M276.0 470.2v5.4M282.7 477.8h5.4M285.4 475.1v5.4M286.0 468.8h5.4M288.7 466.1v5.4M288.5 475.4h5.4M291.2 472.7v5.4M286.8 481.9h5.4M289.5 479.2v5.4M293.0 472.1h5.4M295.7 469.4v5.4M295.1 478.7h5.4M297.8 476.0v5.4M298.3 483.6h5.4M301.0 480.9v5.4M300.0 477.0h5.4M302.7 474.3v5.4M267.3 457.0h5.4M270.0 454.3v5.4M273.3 460.5h5.4M276.0 457.8v5.4M275.3 464.0h5.4M278.0 461.3v5.4M281.3 466.0h5.4M284.0 463.3v5.4M283.3 471.5h5.4M286.0 468.8v5.4M279.3 470.5h5.4M282.0 467.8v5.4M289.3 470.0h5.4M292.0 467.3v5.4M291.3 477.0h5.4M294.0 474.3v5.4M295.3 474.5h5.4M298.0 471.8v5.4M284.3 479.0h5.4M287.0 476.3v5.4M290.3 483.5h5.4M293.0 480.8v5.4M296.3 480.0h5.4M299.0 477.3v5.4M310.0 480.0h5.4M312.7 477.3v5.4M317.9 483.5h5.4M320.6 480.8v5.4M324.3 493.0h5.4M327.0 490.3v5.4M330.8 495.0h5.4M333.5 492.3v5.4M337.6 501.0h5.4M340.3 498.3v5.4M310.0 502.6h5.4M312.7 499.9v5.4M310.8 506.5h5.4M313.5 503.8v5.4M315.8 502.0h5.4M318.5 499.3v5.4M320.3 501.5h5.4M323.0 498.8v5.4M286.3 496.0h5.4M289.0 493.3v5.4M329.8 494.5h5.4M332.5 491.8v5.4M340.5 501.2h5.4M343.2 498.5v5.4M347.4 504.7h5.4M350.1 502.0v5.4M347.4 507.6h5.4M350.1 504.9v5.4M356.9 506.6h5.4M359.6 503.9v5.4M366.9 509.6h5.4M369.6 506.9v5.4M377.2 513.3h5.4M379.9 510.6v5.4M387.6 519.0h5.4M390.3 516.3v5.4M333.0 516.2h5.4M335.7 513.5v5.4M298.9 475.0h5.4M301.6 472.3v5.4M297.8 477.2h5.4M300.5 474.5v5.4M298.2 481.2h5.4M300.9 478.5v5.4M301.6 479.9h5.4M304.3 477.2v5.4M305.8 480.0h5.4M308.5 477.3v5.4M311.0 480.5h5.4M313.7 477.8v5.4M298.0 483.3h5.4M300.7 480.6v5.4M306.4 483.5h5.4M309.1 480.8v5.4M313.5 482.8h5.4M316.2 480.1v5.4M315.9 483.5h5.4M318.6 480.8v5.4M298.7 486.6h5.4M301.4 483.9v5.4M305.6 486.1h5.4M308.3 483.4v5.4M310.8 486.7h5.4M313.5 484.0v5.4M315.3 486.8h5.4M318.0 484.1v5.4M317.2 486.2h5.4M319.9 483.5v5.4M298.0 489.4h5.4M300.7 486.7v5.4M300.4 489.2h5.4M303.1 486.5v5.4M304.4 488.8h5.4M307.1 486.1v5.4M307.1 488.5h5.4M309.8 485.8v5.4M312.5 489.0h5.4M315.2 486.3v5.4M317.4 489.4h5.4M320.1 486.7v5.4M298.5 490.6h5.4M301.2 487.9v5.4M301.7 491.8h5.4M304.4 489.1v5.4M304.8 490.9h5.4M307.5 488.2v5.4M309.2 491.8h5.4M311.9 489.1v5.4M314.6 491.8h5.4M317.3 489.1v5.4M317.6 491.4h5.4M320.3 488.7v5.4M321.9 492.2h5.4M324.6 489.5v5.4M306.6 494.9h5.4M309.3 492.2v5.4M311.0 494.2h5.4M313.7 491.5v5.4M317.2 493.4h5.4M319.9 490.7v5.4M320.1 494.4h5.4M322.8 491.7v5.4M325.2 493.6h5.4M327.9 490.9v5.4M305.3 496.5h5.4M308.0 493.8v5.4M307.6 497.0h5.4M310.3 494.3v5.4M312.1 496.5h5.4M314.8 493.8v5.4M318.5 497.1h5.4M321.2 494.4v5.4M321.5 497.5h5.4M324.2 494.8v5.4M333.4 497.0h5.4M336.1 494.3v5.4M326.7 499.6h5.4M329.4 496.9v5.4M328.5 499.7h5.4M331.2 497.0v5.4M332.6 500.3h5.4M335.3 497.6v5.4M335.7 499.0h5.4M338.4 496.3v5.4M339.5 499.1h5.4M342.2 496.4v5.4M334.7 503.3h5.4M337.4 500.6v5.4M336.8 503.3h5.4M339.5 500.6v5.4" stroke="#ff0000" stroke-width="1.7" fill="none"/>
<g fill="none" stroke="#3c32b4" stroke-width="1.5"><circle cx="467.1" cy="447.7" r="2.3"/></g>
<path d="M448.0 441.5 L453.2 443.0 L459.0 446.4 L464.2 449.8 L469.9 453.8 L477.4 458.2 L484.3 462.2 L492.2 466.0 L499.0 469.0 L498.0 474.0 L499.5 480.0 L498.0 480.0 L494.0 474.5 L486.0 469.5 L476.0 464.5 L466.0 459.5 L459.5 456.0 L454.5 452.3 L450.5 448.5 L447.5 444.5 Z" fill="#0430ff" />
<path d="M444.6 441.7h4.6M446.9 439.4v4.6M446.3 441.1h4.6M448.6 438.8v4.6M448.9 441.4h4.6M451.2 439.1v4.6M445.0 442.9h4.6M447.3 440.6v4.6M447.2 443.8h4.6M449.5 441.5v4.6M449.4 443.5h4.6M451.7 441.2v4.6M451.9 443.1h4.6M454.2 440.8v4.6M446.1 445.1h4.6M448.4 442.8v4.6M448.6 445.6h4.6M450.9 443.3v4.6M450.9 445.7h4.6M453.2 443.4v4.6M452.9 445.2h4.6M455.2 442.9v4.6M455.8 445.4h4.6M458.1 443.1v4.6M457.9 445.8h4.6M460.2 443.5v4.6M447.8 447.2h4.6M450.1 444.9v4.6M450.4 447.7h4.6M452.7 445.4v4.6M451.8 447.2h4.6M454.1 444.9v4.6M454.5 447.9h4.6M456.8 445.6v4.6M456.4 447.0h4.6M458.7 444.7v4.6M458.9 446.9h4.6M461.2 444.6v4.6M451.4 449.0h4.6M453.7 446.7v4.6M453.2 449.1h4.6M455.5 446.8v4.6M455.5 449.9h4.6M457.8 447.6v4.6M457.9 449.2h4.6M460.2 446.9v4.6M460.0 449.3h4.6M462.3 447.0v4.6M462.7 449.2h4.6M465.0 446.9v4.6M452.0 451.0h4.6M454.3 448.7v4.6M454.6 451.1h4.6M456.9 448.8v4.6M457.3 451.4h4.6M459.6 449.1v4.6M459.1 451.7h4.6M461.4 449.4v4.6M461.8 451.0h4.6M464.1 448.7v4.6M463.7 451.1h4.6M466.0 448.8v4.6M455.3 453.9h4.6M457.6 451.6v4.6M458.3 453.6h4.6M460.6 451.3v4.6M460.6 453.2h4.6M462.9 450.9v4.6M462.3 453.8h4.6M464.6 451.5v4.6M465.0 453.8h4.6M467.3 451.5v4.6M467.0 453.3h4.6M469.3 451.0v4.6M469.7 453.8h4.6M472.0 451.5v4.6M457.1 455.4h4.6M459.4 453.1v4.6M459.1 455.7h4.6M461.4 453.4v4.6M460.9 455.1h4.6M463.2 452.8v4.6M463.9 455.9h4.6M466.2 453.6v4.6M466.4 455.2h4.6M468.7 452.9v4.6M468.8 455.2h4.6M471.1 452.9v4.6M470.6 455.1h4.6M472.9 452.8v4.6M460.6 457.0h4.6M462.9 454.7v4.6M462.6 457.1h4.6M464.9 454.8v4.6M464.5 457.5h4.6M466.8 455.2v4.6M466.7 457.0h4.6M469.0 454.7v4.6M469.1 457.3h4.6M471.4 455.0v4.6M472.1 457.2h4.6M474.4 454.9v4.6M473.7 457.7h4.6M476.0 455.4v4.6M476.7 457.9h4.6M479.0 455.6v4.6M465.7 459.4h4.6M468.0 457.1v4.6M468.5 459.1h4.6M470.8 456.8v4.6M470.5 459.5h4.6M472.8 457.2v4.6M472.6 459.8h4.6M474.9 457.5v4.6M474.7 459.8h4.6M477.0 457.5v4.6M477.7 459.3h4.6M480.0 457.0v4.6M479.6 459.8h4.6M481.9 457.5v4.6M469.7 460.9h4.6M472.0 458.6v4.6M471.3 461.5h4.6M473.6 459.2v4.6M473.9 461.3h4.6M476.2 459.0v4.6M476.6 461.4h4.6M478.9 459.1v4.6M478.8 461.7h4.6M481.1 459.4v4.6M481.3 461.0h4.6M483.6 458.7v4.6M483.6 461.7h4.6M485.9 459.4v4.6M473.0 463.1h4.6M475.3 460.8v4.6M474.8 463.7h4.6M477.1 461.4v4.6M477.7 463.4h4.6M480.0 461.1v4.6M480.2 463.1h4.6M482.5 460.8v4.6M482.3 463.4h4.6M484.6 461.1v4.6M484.0 463.0h4.6M486.3 460.7v4.6M486.2 463.1h4.6M488.5 460.8v4.6M479.0 465.0h4.6M481.3 462.7v4.6M481.2 465.0h4.6M483.5 462.7v4.6M483.5 464.9h4.6M485.8 462.6v4.6M485.4 465.8h4.6M487.7 463.5v4.6M488.2 465.0h4.6M490.5 462.7v4.6M490.0 465.8h4.6M492.3 463.5v4.6M482.2 467.8h4.6M484.5 465.5v4.6M484.9 467.6h4.6M487.2 465.3v4.6M486.6 467.4h4.6M488.9 465.1v4.6M488.7 467.1h4.6M491.0 464.8v4.6M491.8 467.4h4.6M494.1 465.1v4.6M493.6 467.8h4.6M495.9 465.5v4.6M496.2 467.0h4.6M498.5 464.7v4.6M485.3 469.3h4.6M487.6 467.0v4.6M487.7 469.6h4.6M490.0 467.3v4.6M490.3 469.9h4.6M492.6 467.6v4.6M492.5 469.3h4.6M494.8 467.0v4.6M494.4 469.4h4.6M496.7 467.1v4.6M497.1 469.6h4.6M499.4 467.3v4.6M498.9 469.1h4.6M501.2 466.8v4.6M489.5 471.9h4.6M491.8 469.6v4.6M491.5 471.6h4.6M493.8 469.3v4.6M493.5 471.6h4.6M495.8 469.3v4.6M495.6 471.7h4.6M497.9 469.4v4.6M498.3 471.1h4.6M500.6 468.8v4.6M489.8 472.9h4.6M492.1 470.6v4.6M492.7 473.7h4.6M495.0 471.4v4.6M494.7 473.8h4.6M497.0 471.5v4.6M496.6 473.8h4.6M498.9 471.5v4.6M491.2 475.2h4.6M493.5 472.9v4.6M493.4 475.1h4.6M495.7 472.8v4.6M495.7 475.4h4.6M498.0 473.1v4.6M492.6 477.6h4.6M494.9 475.3v4.6M494.9 477.6h4.6M497.2 475.3v4.6M497.0 477.1h4.6M499.3 474.8v4.6M493.9 479.4h4.6M496.2 477.1v4.6M495.9 478.9h4.6M498.2 476.6v4.6M497.7 479.8h4.6M500.0 477.5v4.6M496.6 481.1h4.6M498.9 478.8v4.6" stroke="#0430ff" stroke-width="1.6" fill="none"/>
<path d="M499.0 468.5 L505.0 471.0 L510.0 474.0 L518.0 478.5 L523.0 481.5" fill="none" stroke="#0430ff" stroke-width="3.0" stroke-linecap="round" stroke-linejoin="round" />
<path d="M496.8 468.5h4.4M499.0 466.3v4.4M498.8 469.5h4.4M501.0 467.3v4.4M500.8 470.3h4.4M503.0 468.1v4.4M502.8 471.1h4.4M505.0 468.9v4.4M504.8 472.2h4.4M507.0 470.0v4.4M506.8 473.4h4.4M509.0 471.2v4.4M508.8 474.6h4.4M511.0 472.4v4.4M510.8 475.7h4.4M513.0 473.5v4.4M512.8 476.8h4.4M515.0 474.6v4.4M514.8 477.9h4.4M517.0 475.7v4.4M516.8 479.1h4.4M519.0 476.9v4.4M518.8 480.3h4.4M521.0 478.1v4.4M520.8 481.5h4.4M523.0 479.3v4.4" stroke="#0430ff" stroke-width="1.4" fill="none"/>
<path d="M446.9 437.4h5.2M449.5 434.8v5.2M497.7 487.4h5.2M500.3 484.8v5.2M522.8 490.7h5.2M525.4 488.1v5.2M444.9 440.0h5.2M447.5 437.4v5.2" stroke="#0430ff" stroke-width="1.9" fill="none"/>
<path d="M468.4 453.9l3.2 3.2M468.4 457.1l3.2 -3.2M476.4 458.4l3.2 3.2M476.4 461.6l3.2 -3.2M484.4 462.4l3.2 3.2M484.4 465.6l3.2 -3.2M492.4 466.4l3.2 3.2M492.4 469.6l3.2 -3.2M502.4 470.4l3.2 3.2M502.4 473.6l3.2 -3.2M510.4 474.4l3.2 3.2M510.4 477.6l3.2 -3.2M516.4 477.7l3.2 3.2M516.4 480.9l3.2 -3.2" stroke="#7878ff" stroke-width="1.2" fill="none"/>
<g fill="none" stroke="#3c32b4" stroke-width="1.5"><circle cx="499.9" cy="474.7" r="2.3"/><circle cx="525.4" cy="481.2" r="2.3"/></g>
<g fill="#00f0f0"><circle cx="500.5" cy="459.0" r="2.7"/><circle cx="525.0" cy="458.6" r="2.7"/></g>
<path d="M41.10 33.30 V193.30 H227.00" fill="none" stroke="#000" stroke-width="1.7"/>
<path d="M232.80 33.30 V193.30 H418.40" fill="none" stroke="#000" stroke-width="1.7"/>
<path d="M424.30 33.30 V193.30 H610.50" fill="none" stroke="#000" stroke-width="1.7"/>
<path d="M41.10 218.10 V378.20 H227.00" fill="none" stroke="#000" stroke-width="1.7"/>
<path d="M232.80 218.10 V378.20 H418.40" fill="none" stroke="#000" stroke-width="1.7"/>
<path d="M424.30 218.10 V378.20 H610.50" fill="none" stroke="#000" stroke-width="1.7"/>
<path d="M41.10 411.00 V571.00 H227.00" fill="none" stroke="#000" stroke-width="1.7"/>
<path d="M232.80 411.00 V571.00 H418.40" fill="none" stroke="#000" stroke-width="1.7"/>
<path d="M424.30 411.00 V571.00 H610.50" fill="none" stroke="#000" stroke-width="1.7"/>
<path d="M41.10 33.50 h2.6" stroke="#000" stroke-width="1.3"/>
<path d="M41.10 179.20 h2.6" stroke="#000" stroke-width="1.3"/>
<path d="M41.10 249.00 h2.6" stroke="#000" stroke-width="1.3"/>
<path d="M41.10 372.00 h2.6" stroke="#000" stroke-width="1.3"/>
<path d="M41.10 411.20 h2.6" stroke="#000" stroke-width="1.3"/>
<path d="M41.10 491.20 h2.6" stroke="#000" stroke-width="1.3"/>
<path d="M41.10 571.20 h2.6" stroke="#000" stroke-width="1.3"/>
<path d="M64.60 571.00 v-2.6" stroke="#000" stroke-width="1.3"/>
<text x="65.20" y="584" class="tk" text-anchor="middle">0</text>
<path d="M110.80 571.00 v-2.6" stroke="#000" stroke-width="1.3"/>
<text x="111.40" y="584" class="tk" text-anchor="middle">0.5</text>
<path d="M157.00 571.00 v-2.6" stroke="#000" stroke-width="1.3"/>
<text x="157.60" y="584" class="tk" text-anchor="middle">1</text>
<path d="M203.20 571.00 v-2.6" stroke="#000" stroke-width="1.3"/>
<text x="203.80" y="584" class="tk" text-anchor="middle">1.5</text>
<path d="M255.80 571.00 v-2.6" stroke="#000" stroke-width="1.3"/>
<text x="256.40" y="584" class="tk" text-anchor="middle">0</text>
<path d="M302.00 571.00 v-2.6" stroke="#000" stroke-width="1.3"/>
<text x="302.60" y="584" class="tk" text-anchor="middle">0.5</text>
<path d="M348.20 571.00 v-2.6" stroke="#000" stroke-width="1.3"/>
<text x="348.80" y="584" class="tk" text-anchor="middle">1</text>
<path d="M394.40 571.00 v-2.6" stroke="#000" stroke-width="1.3"/>
<text x="395.00" y="584" class="tk" text-anchor="middle">1.5</text>
<path d="M447.20 571.00 v-2.6" stroke="#000" stroke-width="1.3"/>
<text x="447.80" y="584" class="tk" text-anchor="middle">0</text>
<path d="M493.40 571.00 v-2.6" stroke="#000" stroke-width="1.3"/>
<text x="494.00" y="584" class="tk" text-anchor="middle">0.5</text>
<path d="M539.60 571.00 v-2.6" stroke="#000" stroke-width="1.3"/>
<text x="540.20" y="584" class="tk" text-anchor="middle">1</text>
<path d="M585.80 571.00 v-2.6" stroke="#000" stroke-width="1.3"/>
<text x="586.40" y="584" class="tk" text-anchor="middle">1.5</text>
<text x="35.2" y="36.60" class="tk" text-anchor="end">1</text>
<text x="36.2" y="183.20" class="tk" text-anchor="end">0</text>
<text x="36.2" y="252.50" class="tk" text-anchor="end">4</text>
<text x="36.2" y="375.50" class="tk" text-anchor="end">0</text>
<text x="36.4" y="419.30" class="tk" text-anchor="end">10<tspan class="sup" dy="-3.6">2</tspan></text>
<text x="36.4" y="495.60" class="tk" text-anchor="end">10<tspan class="sup" dy="-3.6">-2</tspan></text>
<text x="36.4" y="574.40" class="tk" text-anchor="end">10<tspan class="sup" dy="-3.6">-6</tspan></text>
<text x="67.9" y="19.8" class="ttl">Full model</text>
<text x="250.7" y="19.8" class="ttl">Branched models</text>
<text x="438.7" y="19.8" class="ttl">Unbranched models</text>
<text transform="translate(-0.50 14.50) scale(1 1.1)" class="pl">(<tspan>a</tspan><tspan class="sub" dy="4.6">1</tspan><tspan dy="-4.6">)</tspan></text>
<text transform="translate(196.50 14.50) scale(1 1.1)" class="pl">(<tspan>a</tspan><tspan class="sub" dy="4.6">2</tspan><tspan dy="-4.6">)</tspan></text>
<text transform="translate(399.30 14.50) scale(1 1.1)" class="pl">(<tspan>a</tspan><tspan class="sub" dy="4.6">3</tspan><tspan dy="-4.6">)</tspan></text>
<text transform="translate(-0.50 216.50) scale(1 1.1)" class="pl">(<tspan>b</tspan><tspan class="sub" dy="4.6">1</tspan><tspan dy="-4.6">)</tspan></text>
<text transform="translate(194.20 216.50) scale(1 1.1)" class="pl">(<tspan>b</tspan><tspan class="sub" dy="4.6">2</tspan><tspan dy="-4.6">)</tspan></text>
<text transform="translate(385.60 216.50) scale(1 1.1)" class="pl">(<tspan>b</tspan><tspan class="sub" dy="4.6">3</tspan><tspan dy="-4.6">)</tspan></text>
<text transform="translate(-0.50 401.00) scale(1 1.1)" class="pl">(<tspan>c</tspan><tspan class="sub" dy="4.6">1</tspan><tspan dy="-4.6">)</tspan></text>
<text transform="translate(194.30 401.00) scale(1 1.1)" class="pl">(<tspan>c</tspan><tspan class="sub" dy="4.6">2</tspan><tspan dy="-4.6">)</tspan></text>
<text transform="translate(385.90 401.00) scale(1 1.1)" class="pl">(<tspan>c</tspan><tspan class="sub" dy="4.6">3</tspan><tspan dy="-4.6">)</tspan></text>
<text transform="translate(17.6 104.6) rotate(-90)" class="at" text-anchor="middle">Norm. bAP amp.</text>
<text transform="translate(14.6 295.3) rotate(-90)" class="at" text-anchor="middle">Axial current (nA)</text>
<text transform="translate(10.5 494.2) rotate(-90)" class="at" text-anchor="middle">Log Axial current (nA)</text>
<text x="128.40" y="604" class="at" text-anchor="middle">Electrotonic position (L)</text>
<text x="324.70" y="604" class="at" text-anchor="middle">Electrotonic position (L)</text>
<text x="516.10" y="604" class="at" text-anchor="middle">Electrotonic position (L)</text>
<text x="348.0" y="77.5" class="lg">41Br</text>
<text x="348.0" y="89.0" class="lg">59Br</text>
<text x="348.0" y="100.5" class="lg">93Br</text>
<text x="535.6" y="67.0" class="lg">5UnBr</text>
<text x="535.6" y="78.4" class="lg">14UnBr</text>
<text x="535.6" y="89.8" class="lg">50UnBr</text>
<text x="535.6" y="101.2" class="lg">98UnBr</text>
</svg></body></html>
